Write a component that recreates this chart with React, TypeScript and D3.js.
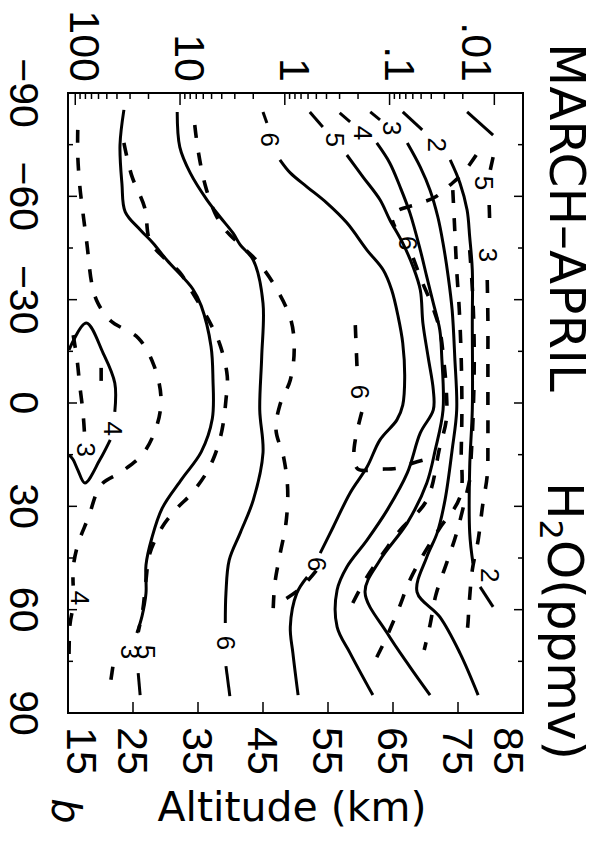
import React from "react";
import * as d3 from "d3";

// Each contour point is [latitude (deg), altitude (km)].
type Pt = [number, number];
type Piece = Pt[];

const latitudeTicks = [-90, -60, -30, 0, 30, 60, 90];
const latitudeMinorTicks = [-75, -45, -15, 15, 45, 75];
const altitudeTicks = [15, 25, 35, 45, 55, 65, 75, 85];
const pressureLevels = [100, 10, 1, 0.1, 0.01];
const pressureLabels = ["100", "10", "1", ".1", ".01"];

// ---- solid contours (ppmv) ----
const solidCore: Piece[] = [
  [[-15.4, 15.15], [-23.2, 17.8], [-14.5, 20.4], [-5.8, 22.2], [2.6, 22.2]],
  [[10.7, 21.5], [16.5, 19.9], [23.2, 17.6], [19.4, 16.5], [16.5, 15.8], [15.1, 15.2]],
];
const solidFiveLow: Piece[] = [
  [[-85.1, 23.6], [-74.9, 23.0], [-63.6, 23.3], [-55.5, 23.8], [-50.3, 26.1], [-46.4, 28.1], [-41.5, 30.2],
   [-33.1, 34.2], [-28.2, 35.5], [-16.5, 37.0], [-7.0, 37.3], [4.6, 37.2], [14.2, 35.5], [22.1, 32.5],
   [30.5, 29.5], [39.2, 27.9], [47.0, 27.0], [55.2, 27.0], [61.8, 26.4], [66.8, 25.6]],
  [[78.4, 25.8], [84.8, 26.1]],
];
const solidSixLow: Piece[] = [
  [[-84.5, 31.8], [-74.3, 32.2], [-66.8, 33.8], [-58.9, 36.4], [-54.0, 38.4], [-49.3, 40.4], [-45.9, 41.5],
   [-41.5, 43.5], [-29.0, 45.0], [-13.4, 44.8], [2.0, 44.5], [14.5, 45.0], [28.2, 43.5], [37.7, 41.5],
   [45.6, 39.8], [55.2, 39.3], [63.9, 39.2]],
  [[76.4, 39.3], [85.1, 39.9]],
];
const solidSixHigh: Piece[] = [
  [[-84.5, 45.0], [-81.3, 45.6]],
  [[-70.6, 47.6], [-66.8, 49.2], [-62.7, 51.8], [-58.1, 54.8], [-52.3, 57.9], [-44.4, 61.0], [-38.6, 63.5],
   [-32.8, 64.8], [-25.0, 65.8], [-17.4, 66.5], [-7.5, 66.8], [0.6, 66.5], [4.9, 65.6], [10.7, 63.0],
   [18.6, 61.0], [26.1, 58.4], [36.0, 55.8], [43.6, 53.8]],
  [[50.5, 51.8], [55.2, 50.2], [65.0, 49.2], [72.6, 49.6], [84.8, 50.4]],
];
const solidFiveHigh: Piece[] = [
  [[-84.5, 52.2], [-80.1, 54.2]],
  [[-72.0, 57.9], [-65.6, 60.4], [-59.0, 63.0], [-53.2, 64.5], [-46.4, 66.5], [-39.5, 68.1], [-32.8, 69.2],
   [-23.2, 69.6], [-13.4, 70.4], [-3.8, 71.2], [2.0, 71.2], [8.7, 69.2], [20.3, 67.2], [31.1, 64.1],
   [39.8, 61.0], [47.6, 57.9], [54.3, 56.4], [65.0, 56.4], [72.6, 58.4], [84.8, 61.9]],
];
const solidFour: Piece[] = [
  [[-84.2, 56.8], [-81.6, 58.4]],
  [[-75.5, 62.5], [-69.7, 64.5], [-62.7, 66.1], [-55.2, 67.6], [-44.4, 69.2], [-36.6, 70.2], [-29.0, 71.2],
   [-21.2, 72.2], [-13.4, 72.5], [2.0, 72.7], [13.6, 71.5], [23.2, 70.2], [34.8, 67.2], [45.6, 63.0],
   [54.9, 60.7], [66.8, 64.1], [76.6, 67.6], [84.8, 70.7]],
];
const solidThree: Piece[] = [
  [[-84.5, 61.5], [-82.2, 63.0]],
  [[-75.5, 67.2], [-68.5, 69.2], [-61.8, 70.7], [-54.0, 71.9], [-46.4, 72.7], [-36.6, 73.5], [-27.0, 74.1],
   [-13.4, 74.5], [2.0, 74.8], [13.6, 74.1], [28.2, 73.0], [37.7, 71.8], [44.7, 70.2], [54.9, 68.7],
   [62.1, 72.2], [72.6, 75.3], [84.8, 78.1]],
];
const solidTwo: Piece[] = [
  [[-84.5, 66.5], [-79.3, 69.5]],
  [[-70.6, 73.8], [-63.9, 75.3], [-56.0, 76.4], [-48.2, 76.8], [-38.6, 77.2], [-23.2, 77.2], [2.0, 77.2],
   [18.6, 76.8], [37.7, 76.8], [46.5, 77.3]],
  [[53.4, 78.4], [59.2, 80.4]],
];
const solidTop: Piece[] = [[[-84.5, 76.4], [-77.8, 80.4]]];

// ---- dashed contours (ppmv) ----
const dashFour: Piece[] = [
  [[-79.3, 16.5], [-72.0, 16.5], [-63.3, 16.8], [-55.2, 17.3], [-46.4, 17.9], [-34.3, 18.7], [-29.0, 19.6],
   [-23.8, 21.6], [-18.9, 25.8], [-11.0, 28.2], [-1.7, 29.3], [6.4, 28.7], [14.8, 26.5], [20.0, 23.2],
   [23.8, 20.1], [33.4, 18.1], [41.2, 16.5], [47.9, 15.8], [53.0, 15.8]],
  [[61.0, 15.6], [64.4, 15.3], [74.5, 15.15]],
];
const dashInner: Piece[] = [
  [[-19.7, 15.8], [-12.5, 16.4], [-5.2, 16.8], [2.6, 17.3], [10.7, 17.6]],
  [[-10.2, 20.1], [-2.3, 20.1]],
];
const dashFive: Piece[] = [
  [[-75.5, 23.6], [-66.0, 24.8], [-56.7, 26.8], [-47.1, 27.6], [-41.9, 29.9], [-37.9, 32.2], [-32.2, 34.1],
   [-23.5, 36.8], [-16.8, 38.4], [-7.8, 39.5], [-0.9, 39.3], [7.8, 38.7], [15.1, 37.6], [20.9, 36.1],
   [26.7, 33.8], [30.5, 31.8], [36.0, 29.5], [43.6, 27.6], [51.4, 27.0], [60.1, 26.5], [66.5, 25.8]],
  [[76.6, 21.9], [80.4, 21.6]],
];
const dashSixLow: Piece[] = [
  [[-80.7, 34.5], [-73.5, 35.0], [-63.3, 36.1], [-55.2, 37.6], [-50.3, 39.2], [-45.9, 41.5], [-41.0, 44.2],
   [-33.4, 47.0], [-24.1, 49.3], [-15.4, 49.8], [-6.7, 49.2], [0.6, 47.6], [7.8, 47.0], [16.0, 48.2],
   [25.3, 48.8], [35.4, 48.5], [44.1, 47.6], [52.8, 46.8], [63.6, 46.5]],
  [[48.7, 53.2], [53.9, 50.7], [58.3, 47.3]],
];
const dashSixTongue: Piece[] = [
  [[-22.6, 59.2], [-8.7, 59.5]],
  [[2.6, 60.2], [10.7, 59.2], [15.1, 59.0], [19.2, 59.6], [19.2, 63.0], [18.9, 65.8], [17.4, 68.1], [16.3, 70.2]],
];
const dashCross: Piece[] = [
  [[-72.0, 77.8], [-66.8, 75.8], [-63.3, 73.8], [-59.8, 71.5], [-57.8, 68.8], [-56.0, 65.8], [-54.6, 64.8], [-51.1, 65.3]],
  [[-42.1, 68.1], [-35.1, 69.5], [-28.4, 71.0], [-21.2, 72.2], [-12.5, 72.8], [-3.8, 73.2], [4.9, 73.2],
   [12.8, 72.2], [28.2, 70.2], [36.9, 66.1], [44.1, 63.3], [51.4, 60.7], [58.1, 58.8]],
];
const dashThree: Piece[] = [
  [[-61.8, 74.2], [-50.3, 74.5], [-38.6, 74.8], [-27.0, 75.2], [-12.5, 75.5], [2.0, 75.6], [13.6, 75.5],
   [27.3, 75.3], [36.3, 72.2], [43.3, 69.9], [51.4, 67.6], [60.1, 65.8], [68.8, 63.8], [73.8, 62.5]],
];
const dashLowRight: Piece[] = [
  [[22.4, 76.8], [37.7, 74.8], [46.2, 73.3], [55.7, 71.6], [64.4, 70.7], [71.7, 69.8]],
];
const dashNearTwo: Piece[] = [
  [[-44.4, 76.8], [-29.9, 77.3], [-12.5, 77.5], [4.9, 77.3], [16.5, 77.0]],
];
const dashTop: Piece[] = [
  [[-71.4, 80.4], [-67.1, 79.9]],
  [[-57.5, 79.8], [-51.1, 79.9]],
  [[-35.7, 79.5], [-24.1, 79.6], [-12.5, 79.6], [-0.9, 79.6], [10.7, 79.6], [20.9, 79.5], [29.6, 78.8],
   [39.8, 78.1], [48.5, 77.2], [58.7, 76.7], [66.0, 76.4], [69.4, 75.8]],
];

// contour labels: [latitude, altitude, text]
const contourLabels: [number, number, string][] = [
  [7.5, 21.9, "4"], [13.6, 17.8, "3"],
  [72.3, 24.5, "3"], [72.3, 27.0, "5"],
  [69.7, 39.3, "6"],
  [-76.4, 46.1, "6"], [46.8, 53.3, "6"],
  [-76.4, 56.1, "5"],
  [-78.4, 60.4, "4"],
  [-79.8, 64.8, "3"],
  [-75.0, 71.8, "2"], [50.0, 79.9, "2"],
  [56.6, 16.8, "4"],
  [-3.2, 59.9, "6"],
  [-46.4, 67.3, "6"],
  [-63.9, 79.0, "5"],
  [-43.0, 79.6, "3"],
];

const solidSets = [solidCore, solidFiveLow, solidSixLow, solidSixHigh, solidFiveHigh, solidFour, solidThree, solidTwo, solidTop];
const dashedSets = [dashFour, dashInner, dashFive, dashSixLow, dashSixTongue, dashCross, dashThree, dashLowRight, dashNearTwo, dashTop];

const TICK_FONT = "'Liberation Sans', Arial, sans-serif";
const TITLE_FONT = "'DejaVu Sans', sans-serif";

export default function App() {
  const left = 68, right = 523, top = 93, bottom = 713;
  const x = d3.scaleLinear().domain([15, 85]).range([left, right]);
  const y = d3.scaleLinear().domain([-90, 90]).range([top, bottom]);
  // log-pressure altitude with a 7 km scale height
  const pressureX = (p: number) => x(7 * Math.log(1000 / p));

  const line = d3
    .line<Pt>()
    .x((d) => x(d[1]))
    .y((d) => y(d[0]))
    .curve(d3.curveCatmullRom.alpha(0.5));

  const minorPressure: number[] = [];
  for (let e = -2; e <= 1; e++) {
    for (let k = 2; k <= 9; k++) minorPressure.push(k * Math.pow(10, e));
  }

  const tickSize = 43;
  const capH = 0.716 * tickSize;

  return (
    <svg
      width={611}
      height={846}
      viewBox="0 0 611 846"
      style={{ position: "absolute", left: 0, top: 0, background: "#fff" }}
    >
      <rect x={0} y={0} width={611} height={846} fill="#fff" />

      {/* contours */}
      <g fill="none" stroke="#000" strokeLinejoin="round">
        {solidSets.map((set, i) =>
          set.map((piece, j) => <path key={`s${i}-${j}`} d={line(piece) || ""} strokeWidth={3} />)
        )}
        {dashedSets.map((set, i) =>
          set.map((piece, j) => (
            <path key={`d${i}-${j}`} d={line(piece) || ""} strokeWidth={3.6} strokeDasharray="13 15" />
          ))
        )}
      </g>

      {/* contour labels */}
      {contourLabels.map(([lat, alt, t], i) => (
        <text
          key={`cl${i}`}
          transform={`translate(${x(alt)},${y(lat)}) rotate(90)`}
          textAnchor="middle"
          dominantBaseline="central"
          fontFamily={TICK_FONT}
          fontSize={26}
        >
          {t}
        </text>
      ))}

      {/* frame */}
      <rect x={left} y={top} width={right - left} height={bottom - top} fill="none" stroke="#000" strokeWidth={2} />

      {/* latitude ticks on both long edges */}
      <g stroke="#000" strokeWidth={1.5}>
        {latitudeTicks.slice(1, -1).map((v) => (
          <g key={`lt${v}`}>
            <line x1={left} x2={left + 9} y1={y(v)} y2={y(v)} />
            <line x1={right} x2={right - 9} y1={y(v)} y2={y(v)} />
          </g>
        ))}
        {latitudeMinorTicks.map((v) => (
          <g key={`lm${v}`}>
            <line x1={left} x2={left + 5} y1={y(v)} y2={y(v)} />
            <line x1={right} x2={right - 5} y1={y(v)} y2={y(v)} />
          </g>
        ))}
        {/* pressure ticks along the top edge */}
        {pressureLevels.map((p) => (
          <line key={`pt${p}`} x1={pressureX(p)} x2={pressureX(p)} y1={top} y2={top + 12} />
        ))}
        {minorPressure.map((p) => (
          <line key={`pm${p}`} x1={pressureX(p)} x2={pressureX(p)} y1={top} y2={top + 6} />
        ))}
        {/* altitude ticks along the bottom edge */}
        {altitudeTicks.slice(1, -1).map((a) => (
          <line key={`at${a}`} x1={x(a)} x2={x(a)} y1={bottom} y2={bottom - 11} />
        ))}
      </g>

      {/* pressure labels */}
      {pressureLevels.map((p, i) => (
        <text
          key={`pl${p}`}
          transform={`translate(${Math.min(pressureX(p) - 5, right - 61)},82) rotate(90)`}
          textAnchor="end"
          fontFamily={TICK_FONT}
          fontSize={tickSize}
        >
          {pressureLabels[i]}
        </text>
      ))}

      {/* latitude labels */}
      {latitudeTicks.map((v) => (
        <text
          key={`ll${v}`}
          transform={`translate(10,${y(v)}) rotate(90)`}
          textAnchor="middle"
          fontFamily={TICK_FONT}
          fontSize={41}
        >
          {v < 0 ? `\u2212${Math.abs(v)}` : `${v}`}
        </text>
      ))}

      {/* altitude labels */}
      {altitudeTicks.map((a) => {
        const c = Math.max(left + 14, Math.min(right - 14, x(a)));
        return (
          <text
            key={`al${a}`}
            transform={`translate(${c - capH / 2},727) rotate(90)`}
            textAnchor="start"
            fontFamily={TICK_FONT}
            fontSize={tickSize}
          >
            {a}
          </text>
        );
      })}

      {/* title */}
      <text transform="translate(550,43) rotate(90)" fontFamily={TITLE_FONT} fontSize={50}>
        MARCH–APRIL
      </text>
      <text transform="translate(548,482) rotate(90)" fontFamily={TITLE_FONT} fontSize={50}>
        H
        <tspan fontSize={32} dy={8}>
          2
        </tspan>
        <tspan dy={-8}>O(ppmv)</tspan>
      </text>

      {/* axis title */}
      <text x={292} y={821} textAnchor="middle" fontFamily={TITLE_FONT} fontSize={41}>
        Altitude (km)
      </text>

      {/* panel mark */}
      <text
        transform="translate(52,811) rotate(90)"
        textAnchor="middle"
        fontFamily={TITLE_FONT}
        fontStyle="italic"
        fontSize={40}
        fontWeight={300}
      >
        b
      </text>
    </svg>
  );
}
